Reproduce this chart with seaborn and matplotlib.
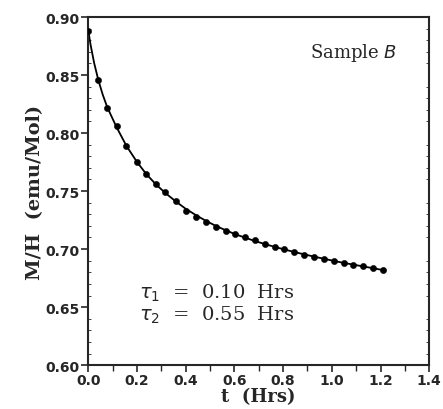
import matplotlib
matplotlib.use('Agg')
import matplotlib.pyplot as plt
import seaborn as sns
import pandas as pd
from matplotlib.ticker import MultipleLocator

# --- Data ---
t_hrs = [0.000, 0.042, 0.078, 0.118, 0.157, 0.199, 0.238, 0.278, 0.316, 0.359,
         0.400, 0.442, 0.482, 0.524, 0.565, 0.604, 0.645, 0.684, 0.724, 0.766,
         0.805, 0.846, 0.886, 0.928, 0.969, 1.009, 1.049, 1.089, 1.128, 1.170, 1.211]
m_over_h = [0.888, 0.8455, 0.822, 0.806, 0.789, 0.775, 0.7645, 0.756, 0.749, 0.7415,
            0.733, 0.728, 0.7234, 0.719, 0.7157, 0.7128, 0.7105, 0.708, 0.7048, 0.7022,
            0.6999, 0.6976, 0.6953, 0.6933, 0.6916, 0.6898, 0.6881, 0.6867, 0.6852, 0.6835, 0.6818]

# fitted curve
fit_t = [0.000, 0.010, 0.025, 0.042, 0.060, 0.078, 0.100, 0.118, 0.157, 0.199,
         0.238, 0.278, 0.316, 0.359, 0.400, 0.442, 0.482, 0.524, 0.565, 0.604,
         0.645, 0.684, 0.724, 0.766, 0.805, 0.846, 0.886, 0.928, 0.969, 1.009,
         1.049, 1.089, 1.128, 1.170, 1.211]
fit_y = [0.889, 0.876, 0.860, 0.8455, 0.833, 0.8225, 0.8125, 0.8045, 0.789, 0.7755,
         0.7648, 0.7558, 0.7485, 0.7412, 0.7348, 0.7293, 0.7245, 0.7200, 0.7162, 0.7128,
         0.7098, 0.7070, 0.7044, 0.7019, 0.6997, 0.6975, 0.6955, 0.6935, 0.6916, 0.6898,
         0.6881, 0.6866, 0.6851, 0.6835, 0.6819]

df = pd.DataFrame({'t': t_hrs, 'mh': m_over_h})
fit_df = pd.DataFrame({'t': fit_t, 'mh': fit_y})

sns.set_style('ticks')
plt.rcParams['font.family'] = ['DejaVu Serif']

fig = plt.figure(figsize=(4.43, 4.10), dpi=100)
ax = fig.add_axes([0.199, 0.107, 0.770, 0.849])

sns.lineplot(data=fit_df, x='t', y='mh', ax=ax, color='black', linewidth=1.3)
sns.scatterplot(data=df, x='t', y='mh', ax=ax, color='black', s=20, edgecolor='black', zorder=3)

ax.set_xlim(0, 1.4)
ax.set_ylim(0.60, 0.90)
ax.xaxis.set_major_locator(MultipleLocator(0.2))
ax.xaxis.set_minor_locator(MultipleLocator(0.1))
ax.yaxis.set_major_locator(MultipleLocator(0.05))
ax.yaxis.set_minor_locator(MultipleLocator(0.01))
ax.set_xticklabels([f'{v:.1f}' for v in ax.get_xticks()])
ax.set_yticklabels([f'{v:.2f}' for v in ax.get_yticks()])
ax.tick_params(which='major', direction='out', length=5, width=1.2, labelsize=10, pad=1)
ax.tick_params(axis='x', which='minor', direction='out', length=4, width=1.0)
ax.tick_params(axis='y', which='minor', direction='in', length=2, width=0.6)
ax.tick_params(axis='y', right=True, which='minor')
ax.tick_params(axis='y', right=False, which='major')
for lab in ax.get_xticklabels() + ax.get_yticklabels():
    lab.set_fontweight('bold')
    lab.set_family('DejaVu Sans')

for sp in ax.spines.values():
    sp.set_linewidth(1.5)

ax.set_xlabel('t  (Hrs)', fontsize=13, fontweight='bold', labelpad=0)
ax.set_ylabel('M/H  (emu/Mol)', fontsize=14, fontweight='bold', labelpad=1)

ax.text(0.905, 0.90, 'Sample $\\it{B}$', transform=ax.transAxes, ha='right', va='center', fontsize=13)
ax.text(0.15, 0.21, r'$\tau_1$  =  0.10  Hrs', transform=ax.transAxes, ha='left', va='center', fontsize=14)
ax.text(0.15, 0.147, r'$\tau_2$  =  0.55  Hrs', transform=ax.transAxes, ha='left', va='center', fontsize=14)

fig.savefig('out.png', dpi=100)
